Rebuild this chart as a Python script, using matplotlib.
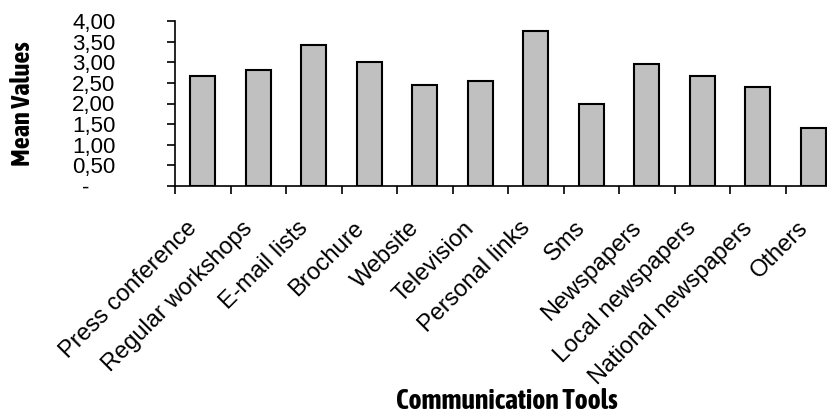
import numpy as np
import matplotlib
matplotlib.use('Agg')
import matplotlib.pyplot as plt
from matplotlib.transforms import ScaledTranslation

tools = ['Press conference', 'Regular workshops', 'E-mail lists', 'Brochure',
         'Website', 'Television', 'Personal links', 'Sms', 'Newspapers',
         'Local newspapers', 'National newspapers', 'Others']
means = [2.67, 2.81, 3.41, 3.00, 2.44, 2.54, 3.76, 1.99, 2.95, 2.67, 2.40, 1.40]
ytick_values = [0, 0.5, 1.0, 1.5, 2.0, 2.5, 3.0, 3.5, 4.0]
ytick_labels = ['-', '0,50', '1,00', '1,50', '2,00', '2,50', '3,00', '3,50', '4,00']

plt.rcParams['font.family'] = ['Liberation Sans', 'DejaVu Sans']
narrow = ['Asap Condensed', 'Liberation Sans']

fig = plt.figure(figsize=(8.27, 4.16), dpi=100)
ax = fig.add_axes([175 / 827, 1 - 186 / 416, 666 / 827, 165 / 416])

x = np.arange(len(tools))
ax.bar(x, means, width=0.45, color='#c0c0c0', edgecolor='black', linewidth=1.5)

ax.set_xlim(-0.5, len(tools) - 0.5)
ax.set_ylim(0, 4)

for side in ['top', 'right']:
    ax.spines[side].set_visible(False)
for side in ['left', 'bottom']:
    ax.spines[side].set_linewidth(1.2)

# labels sit under the bars, tick marks go between categories
ax.set_xticks(x)
ax.set_xticklabels(tools, rotation=45, ha='right', va='center',
                   rotation_mode='anchor', fontsize=17)
ax.set_xticks(np.arange(-0.5, len(tools), 1), minor=True)
ax.tick_params(axis='x', which='major', length=0, pad=28)
ax.tick_params(axis='x', which='minor', length=6, width=1.2, direction='out')
shift_left = ScaledTranslation(-0.09, 0, fig.dpi_scale_trans)
for lbl in ax.get_xticklabels():
    lbl.set_transform(lbl.get_transform() + shift_left)

ax.set_yticks(ytick_values)
ax.set_yticklabels(ytick_labels, fontsize=16)
ax.tick_params(axis='y', length=6, width=1.2, direction='out', pad=37)
zero_label = ax.get_yticklabels()[0]
zero_label.set_transform(zero_label.get_transform() +
                         ScaledTranslation(-0.26, 0, fig.dpi_scale_trans))

fig.text(23 / 827, 1 - 104 / 416, 'Mean Values', rotation=90, ha='center', va='center',
         fontsize=19, fontweight='bold', family=narrow)
fig.text(507 / 827, 1 - 409 / 416, 'Communication Tools', ha='center', va='baseline',
         fontsize=20, fontweight='bold', family=narrow)

fig.savefig('out.png', dpi=100)
